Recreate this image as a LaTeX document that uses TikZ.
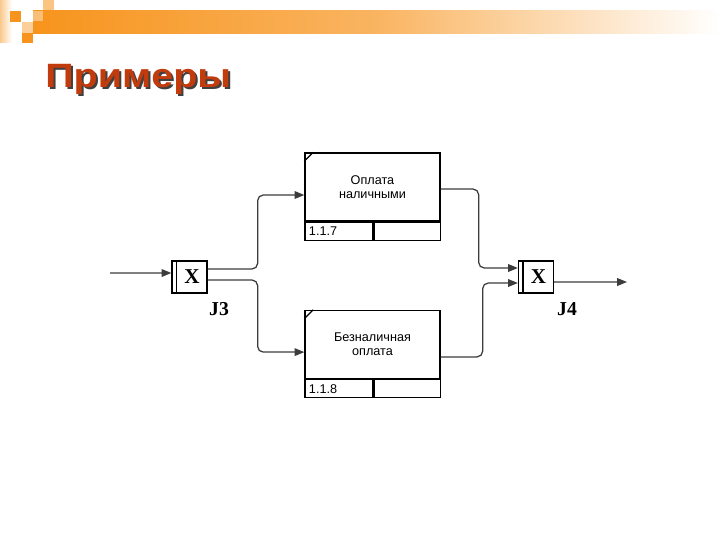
\documentclass[tikz,border=0pt]{standalone}
\usepackage{fontspec}
\setmainfont{Liberation Sans}
\newfontfamily\jfont{Liberation Serif}
\usetikzlibrary{arrows.meta,positioning,calc}
\definecolor{barorange}{HTML}{F7941D}
\definecolor{titlered}{HTML}{C23B0C}
\definecolor{wiregrey}{HTML}{3C3C3C}
\tikzset{
  uob/.style      = {draw, line width=0.9pt, fill=white, minimum width=3.375cm,
                     minimum height=1.7cm, inner sep=1pt, align=center,
                     font=\fontsize{9}{10}\selectfont},
  refcell/.style  = {draw, line width=0.9pt, minimum height=0.45cm, text width=1.5cm,
                     inner xsep=0.1cm, inner ysep=0pt, align=left, anchor=north west,
                     font=\fontsize{9}{10}\selectfont},
  junc/.style     = {draw, line width=0.9pt, minimum width=0.875cm, minimum height=0.8cm,
                     inner sep=0pt, font=\jfont\bfseries\fontsize{15}{15}\selectfont},
  jlbl/.style     = {font=\jfont\bfseries\fontsize{14}{14}\selectfont},
  sig/.style      = {-{Triangle[length=7pt,width=5.5pt]}, line width=0.9pt, draw=wiregrey,
                     rounded corners=4pt},
  ttl/.style      = {anchor=base west, inner sep=0pt, font=\fontsize{24}{26}\selectfont\bfseries},
}
\begin{document}
\begin{tikzpicture}[x=0.025cm, y=-0.025cm]
  \useasboundingbox (0,0) rectangle (720,540);
  \shade[left color=barorange!50, right color=white] (0,0) rectangle (12,42);
  \shade[left color=barorange, right color=white, middle color=barorange!70] (33,10) rectangle (720,33);
  \fill[barorange] (10,11) rectangle (21,22);
  \fill[barorange!45] (22,22) rectangle (33,33);
  \fill[barorange] (22,33) rectangle (33,43);
  \fill[barorange!55] (43,0) rectangle (54,10);
  \fill[barorange!60] (33,11) rectangle (43,21);

  \node[ttl, text=black!75] (titleshade) at (47,89) {\scalebox{1.17}[1]{Примеры}};
  \node[ttl, text=titlered] (title) at (45,87) {\scalebox{1.17}[1]{Примеры}};

  \node[uob] (cash) at (372.5,187) {Оплата\\наличными};
  \node[refcell] (cashno) at (cash.south west) {1.1.7};
  \node[refcell, right=0pt of cashno, text width=1.45cm] (cashspare) {};
  \node[uob] (card) at (372.5,344.5) {Безналичная\\оплата};
  \node[refcell] (cardno) at (card.south west) {1.1.8};
  \node[refcell, right=0pt of cardno, text width=1.45cm] (cardspare) {};
  \draw[line width=0.9pt] ([yshift=-0.22cm]cash.north west) -- ([xshift=0.22cm]cash.north west);
  \draw[line width=0.9pt] ([yshift=-0.22cm]card.north west) -- ([xshift=0.22cm]card.north west);

  \node[junc] (j3) at (189.5,277) {\hspace*{0.125cm}X};
  \node[junc] (j4) at (536,277) {\hspace*{0.125cm}X};
  \draw[line width=0.9pt] ([xshift=0.125cm]j3.north west) -- ([xshift=0.125cm]j3.south west);
  \draw[line width=0.9pt] ([xshift=0.125cm]j4.north west) -- ([xshift=0.125cm]j4.south west);
  \node[jlbl] (j3name) at (219,309) {J3};
  \node[jlbl] (j4name) at (567,309) {J4};

  \coordinate (in) at (110,273);
  \coordinate (out) at (627,282);
  \draw[sig] (in) -- ([yshift=0.1cm]j3.west);
  \draw[sig] ([yshift=0.2cm]j3.east) -- ++(50,0) |- ([yshift=-0.2cm]cash.west);
  \draw[sig] ([yshift=-0.075cm]j3.east) -- ++(50,0) |- ([yshift=-0.19cm]card.west);
  \draw[sig] ([yshift=-0.05cm]cash.east) -- ++(38,0) |- ([yshift=0.225cm]j4.west);
  \draw[sig] ([yshift=-0.31cm]card.east) -- ++(42,0) |- ([yshift=-0.15cm]j4.west);
  \draw[sig] ([yshift=-0.125cm]j4.east) -- (out);
\end{tikzpicture}
\end{document}
